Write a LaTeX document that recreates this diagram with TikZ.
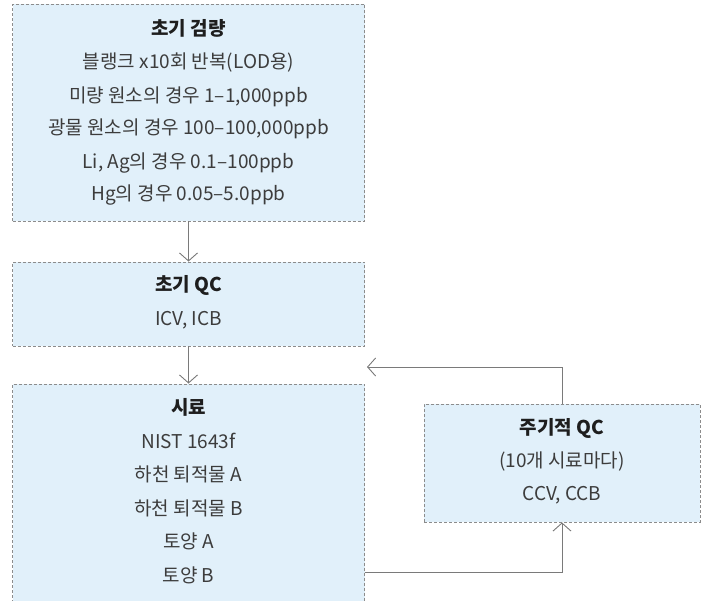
\documentclass[tikz,border=0pt]{standalone}
\usepackage{fontspec}
\setmainfont{Noto Sans CJK KR}
\usetikzlibrary{arrows.meta}
\definecolor{boxfill}{HTML}{E1F0FA}
\definecolor{boxline}{HTML}{8C8C8C}
\definecolor{arrline}{HTML}{7A7A7A}
\definecolor{bodytxt}{HTML}{3C3C3C}
\definecolor{titletxt}{HTML}{1E1E1E}
\tikzset{
  box/.style={draw=boxline, fill=boxfill, line width=0.9pt, dash pattern=on 3pt off 2pt, inner sep=0pt},
  ttl/.style={font=\fontsize{19}{21}\selectfont\bfseries, text=titletxt, inner sep=0pt},
  txt/.style={font=\fontsize{19}{21}\selectfont, text=bodytxt, inner sep=0pt},
  arr/.style={draw=arrline, line width=0.9pt, -{Straight Barb[length=8pt,width=18pt,line width=0.9pt]}}
}
\begin{document}
\begin{tikzpicture}[x=1pt,y=-1pt]
\useasboundingbox (0,0) rectangle (701,600);
% boxes
\node[box, minimum width=352pt, minimum height=217pt] (b1) at (188.5,112.5) {};
\node[box, minimum width=352pt, minimum height=84pt] (b2) at (188.5,304) {};
\node[box, minimum width=352pt, minimum height=240pt] (b3) at (188.5,504) {};
\node[box, minimum width=276pt, minimum height=118pt] (b4) at (562,463) {};
% box 1 text
\node[ttl] (t1) at (188.5,28) {초기 검량};
\node[txt] (l11) at (188.5,63) {블랭크 x10회 반복(LOD용)};
\node[txt] (l12) at (188.5,97) {미량 원소의 경우 1–1,000ppb};
\node[txt] (l13) at (188.5,129) {광물 원소의 경우 100–100,000ppb};
\node[txt] (l14) at (188.5,163) {Li, Ag의 경우 0.1–100ppb};
\node[txt] (l15) at (188.5,195) {Hg의 경우 0.05–5.0ppb};
% box 2 text
\node[ttl] (t2) at (188.5,285) {초기 QC};
\node[txt] (l21) at (188.5,320) {ICV, ICB};
% box 3 text
\node[ttl] (t3) at (188.5,407) {시료};
\node[txt] (l31) at (188.5,441) {NIST 1643f};
\node[txt] (l32) at (188.5,474) {하천 퇴적물 A};
\node[txt] (l33) at (188.5,508) {하천 퇴적물 B};
\node[txt] (l34) at (188.5,541) {토양 A};
\node[txt] (l35) at (188.5,575) {토양 B};
% box 4 text
\node[ttl] (t4) at (562,428) {주기적 QC};
\node[txt] (l41) at (562,461) {(10개 시료마다)};
\node[txt] (l42) at (562,495) {CCV, CCB};
% connectors
\coordinate (fb) at (367,367);
\coordinate (s3) at (364.5,572);
\draw[arr] (b1.south) -- (b2.north);
\draw[arr] (b2.south) -- (b3.north);
\draw[arr] (b4.north) |- (fb);
\draw[arr] (s3) -| (b4.south);
\end{tikzpicture}
\end{document}
